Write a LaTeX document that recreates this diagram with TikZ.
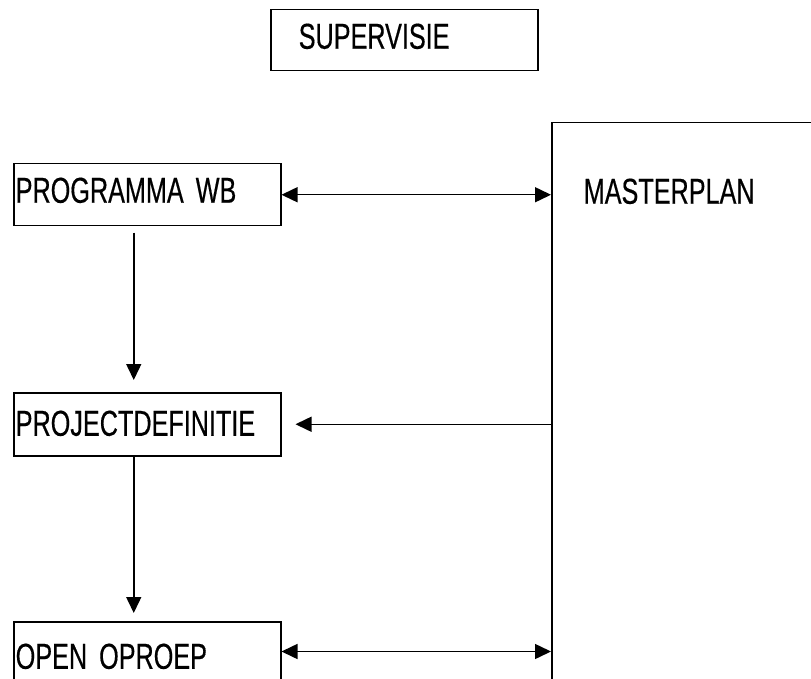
\documentclass[tikz,border=0pt]{standalone}
\usepackage{fontspec}
\setmainfont[FakeStretch=0.7, FakeBold=0.4]{Liberation Sans}
\usetikzlibrary{positioning, arrows.meta}
\newcommand{\blokfont}{\fontsize{36}{43}\selectfont\spaceskip=5pt plus 1pt\relax}

\begin{document}
\begin{tikzpicture}[x=1pt, y=-1pt,
    blok/.style={rectangle, draw=black, line width=1.5pt, anchor=north west, align=left, inner ysep=0pt, fill=white, font=\blokfont},
    pijl/.style={line width=1.5pt, -{Triangle[length=16pt, width=15pt]}},
    dubbelpijl/.style={line width=1.5pt, {Triangle[length=16pt, width=15pt]}-{Triangle[length=16pt, width=15pt]}}
]
    \useasboundingbox (0,0) rectangle (811,679);
    \clip (0,0) rectangle (811,679);
    \node[blok, inner xsep=28pt, text width=211pt, text height=39pt, text depth=22pt] (supervisie) at (270,9) {SUPERVISIE};
    \node[blok, inner xsep=32pt, text width=236pt, text height=81pt, text depth=500pt] (masterplan) at (551,122) {MASTERPLAN};
    \node[blok, inner xsep=2pt, text width=263pt, text height=39pt, text depth=23pt] (programma) at (13,163) {PROGRAMMA WB};
    \node[blok, inner xsep=2pt, text width=263pt, text height=43pt, text depth=20pt] (projectdef) at (13,392) {PROJECTDEFINITIE};
    \node[blok, inner xsep=2pt, text width=263pt, text height=47pt, text depth=12.5pt] (oproep) at (13,621) {OPEN OPROEP};

    \draw[dubbelpijl] (programma.east) -- (programma.east -| masterplan.west);
    \draw[pijl, shorten >=14pt] (projectdef.east -| masterplan.west) -- (projectdef.east);
    \draw[dubbelpijl] (oproep.east) -- (oproep.east -| masterplan.west);
    \draw[pijl, shorten <=6pt, shorten >=12pt] ([xshift=-13.5pt]programma.south) -- ([xshift=-13.5pt]projectdef.north);
    \draw[pijl, shorten >=8pt] ([xshift=-13.5pt]projectdef.south) -- ([xshift=-13.5pt]oproep.north);
\end{tikzpicture}
\end{document}
